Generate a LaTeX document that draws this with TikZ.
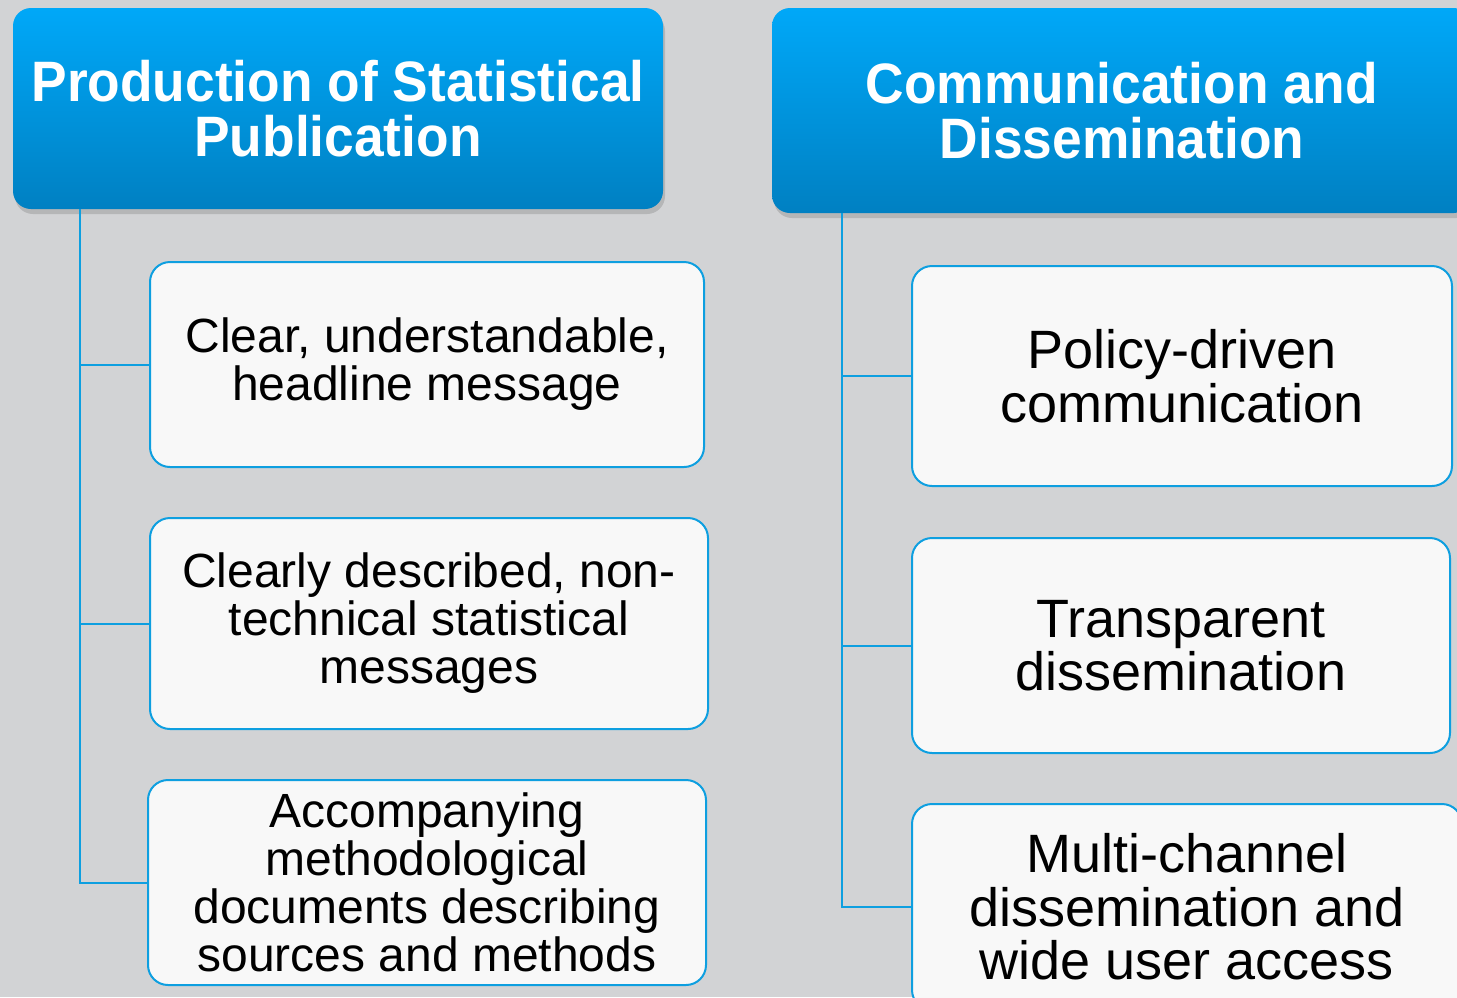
\documentclass[tikz,border=0pt]{standalone}
\usepackage{fontspec}
\setmainfont{Liberation Sans}
\newfontfamily\hdrfont[FakeStretch=0.935]{Liberation Sans}
\usetikzlibrary{shadows}
\definecolor{bggray}{HTML}{D2D3D5}
\definecolor{hdrtop}{HTML}{00A8F8}
\definecolor{hdrbot}{HTML}{0080C2}
\definecolor{linkblue}{HTML}{0E9FE0}
\definecolor{boxfill}{HTML}{F8F8F8}
\begin{document}
\begin{tikzpicture}[x=1pt,y=-1pt,
  hdr/.style={rounded corners=18pt, top color=hdrtop, bottom color=hdrbot, text=white, align=center, inner sep=0pt,
    font=\hdrfont\bfseries\fontsize{57}{55}\selectfont,
    drop shadow={opacity=0.35, shadow xshift=2pt, shadow yshift=-5pt}},
  item/.style={draw=linkblue, line width=2pt, fill=boxfill, rounded corners=20pt, align=center, inner sep=0pt},
  small/.style={font=\fontsize{48}{48}\selectfont},
  large/.style={font=\fontsize{54}{53.5}\selectfont},
  conn/.style={draw=linkblue, line width=2pt}]
\clip (0,0) rectangle (1457,997);
\fill[bggray] (0,0) rectangle (1457,997);
% headers
\node[hdr, minimum width=650pt, minimum height=201pt] (prod) at (338,108.5) {Production of Statistical\\Publication};
\node[hdr, minimum width=700pt, minimum height=205pt] (comm) at (1122,110.5) {Communication and\\Dissemination};
% left column
\node[item, small, minimum width=554pt, minimum height=205pt] (clear) at (427,364.5) {Clear, understandable,\\headline message};
\node[item, small, minimum width=558pt, minimum height=211pt] (nontech) at (429,623.5) {Clearly described, non-\\technical statistical\\messages};
\node[item, small, minimum width=558pt, minimum height=205pt] (accomp) at (427,882.5) {Accompanying\\methodological\\documents describing\\sources and methods};
% right column
\node[item, large, minimum width=540pt, minimum height=220pt] (policy) at (1182,376) {Policy-driven\\communication};
\node[item, large, minimum width=538pt, minimum height=215pt] (transp) at (1181,645.5) {Transparent\\dissemination};
\node[item, large, minimum width=550pt, minimum height=206pt] (multi) at (1187,907) {Multi-channel\\dissemination and\\wide user access};
% connectors
\draw[conn] ([xshift=67pt]prod.south west) |- (accomp.west);
\draw[conn] ([xshift=67pt]prod.south west) |- (clear.west);
\draw[conn] ([xshift=67pt]prod.south west) |- (nontech.west);
\draw[conn] ([xshift=70pt]comm.south west) |- (multi.west);
\draw[conn] ([xshift=70pt]comm.south west) |- (policy.west);
\draw[conn] ([xshift=70pt]comm.south west) |- (transp.west);
\end{tikzpicture}
\end{document}
